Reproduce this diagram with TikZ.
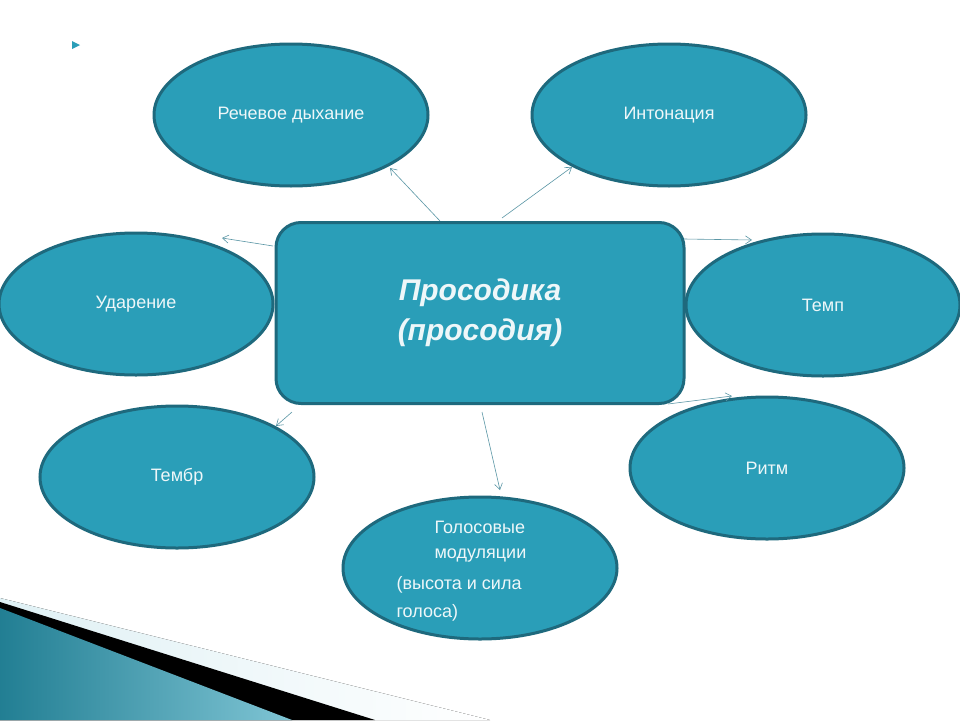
\documentclass[tikz,border=0pt]{standalone}
\usepackage{fontspec}
\setmainfont{Liberation Sans}
\usetikzlibrary{shapes.geometric,arrows.meta}
\definecolor{tfill}{RGB}{42,158,184}
\definecolor{tborder}{RGB}{30,105,125}
\definecolor{tarrow}{RGB}{90,150,165}
\begin{document}
\begin{tikzpicture}[x=1pt,y=-1pt,
  oval/.style={ellipse,draw=tborder,line width=3pt,fill=tfill,minimum width=274pt,minimum height=142pt,text=white!92!tfill,font=\fontsize{18}{22}\selectfont},
  conn/.style={draw=tarrow,line width=0.6pt,-{Straight Barb[length=6pt,width=8pt]}}]
\useasboundingbox (0,0) rectangle (960,720);
\fill[white] (0,0) rectangle (960,720);
% decoration
\fill[left color=white!85!tfill,right color=white] (0,598) -- (490,720) -- (0,720) -- cycle;
\fill[black] (0,602) -- (375,720) -- (0,720) -- cycle;
\fill[left color=tfill!80!black,right color=tfill!60!white] (0,608) -- (292,720) -- (0,720) -- cycle;
\fill[tfill] (72,41) -- (80,45) -- (72,49) -- cycle;
% nodes
\node[draw=tborder,line width=3pt,fill=tfill,rounded corners=25pt,minimum width=408pt,minimum height=181pt,text=white!92!tfill,align=center,font=\fontsize{30}{40}\selectfont\bfseries\itshape] (c) at (480,313) {Просодика\\(просодия)};
\node[oval] (r) at (291,115) {Речевое дыхание};
\node[oval] (i) at (669,115) {Интонация};
\node[oval] (u) at (136,304) {Ударение};
\node[oval] (t) at (823,305) {Темп};
\node[oval] (tb) at (177,477) {Тембр};
\node[oval] (rt) at (767,468) {Ритм};
\node[oval] (g) at (480,568) {};
\node[text=white!92!tfill,font=\fontsize{18}{22}\selectfont,anchor=west] (g1) at (431,527) {Голосовые};
\node[text=white!92!tfill,font=\fontsize{18}{22}\selectfont,anchor=west] (g2) at (431,556) {модуляции};
\node[text=white!92!tfill,font=\fontsize{18}{22}\selectfont,anchor=west] (g3) at (393,585) {(высота и сила};
\node[text=white!92!tfill,font=\fontsize{18}{22}\selectfont,anchor=west] (g4) at (393,613) {голоса)};
% connectors
\coordinate (a1) at (440,221); \coordinate (a2) at (502,218);
\coordinate (a3) at (273,246); \coordinate (a4) at (684,239);
\coordinate (a5) at (292,412); \coordinate (a6) at (668,404);
\coordinate (a7) at (482,412);
\draw[conn] (a1) -- (390,168);
\draw[conn] (a2) -- (572,167);
\draw[conn] (a3) -- (222,238);
\draw[conn] (a4) -- (752,240);
\draw[conn] (a5) -- (276,426);
\draw[conn] (a6) -- (732,396);
\draw[conn] (a7) -- (500,490);
\end{tikzpicture}
\end{document}
